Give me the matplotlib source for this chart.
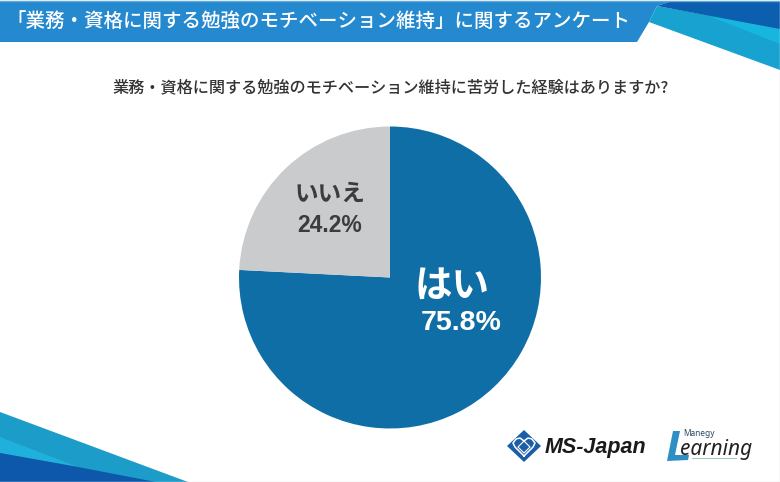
import matplotlib
matplotlib.use('Agg')
import matplotlib.pyplot as plt
from matplotlib.patches import Polygon, Rectangle

plt.rcParams['font.family'] = ['Noto Sans CJK JP', 'DejaVu Sans']

# Data
categories = ['はい', 'いいえ']
values = [75.8, 24.2]
colors = ['#0f6ea6', '#c9cbcc']
banner_title = '「業務・資格に関する勉強のモチベーション維持」に関するアンケート'
question = '業務・資格に関する勉強のモチベーション維持に苦労した経験はありますか?'

fig = plt.figure(figsize=(7.8, 4.82), dpi=100)

# Background layer in pixel coordinates
bg = fig.add_axes([0, 0, 1, 1])
bg.set_xlim(0, 780)
bg.set_ylim(482, 0)
bg.axis('off')

def poly(pts, color, z=1):
    bg.add_patch(Polygon(pts, closed=True, facecolor=color, edgecolor='none', zorder=z))

# Top banner
poly([(0, 1), (672, 1), (657, 6), (649, 22), (637, 42), (0, 42)], '#2589cf')
poly([(649, 22), (780, 70), (780, 28), (657, 6)], '#18a2cf', 2)
poly([(700, 12.5), (780, 44), (780, 28)], '#17b6de', 3)
poly([(672, 1), (780, 1), (780, 29), (657, 6)], '#0c5fae', 4)
bg.plot([0, 780], [1, 1], color='#5fa8dc', lw=1, zorder=5)

# Bottom left corner
poly([(0, 412), (188, 482), (0, 482)], '#1c9cc9')
poly([(0, 437), (78, 467), (0, 453)], '#1fb1dc', 2)
poly([(0, 453), (78, 467), (156, 482), (0, 482)], '#0d58ab', 3)

# Banner and question text
bg.text(6, 22, banner_title, color='white', fontsize=14, fontweight='medium',
        ha='left', va='center', zorder=6)
bg.text(391, 88, question, color='#333333', fontsize=11.65, fontweight='medium',
        ha='center', va='center')

# Pie
ax = fig.add_axes([239 / 780, 1 - 428.5 / 482, 302 / 780, 302 / 482])
ax.pie(values, colors=colors, startangle=90, counterclock=False,
       radius=1.0, wedgeprops={'edgecolor': 'none'})
ax.set_xlim(-1, 1)
ax.set_ylim(-1, 1)

bg.set_zorder(0)
ax.set_zorder(1)

# Pie labels
labels = fig.add_axes([0, 0, 1, 1])
labels.set_xlim(0, 780)
labels.set_ylim(482, 0)
labels.axis('off')
labels.set_zorder(2)
labels.text(452, 285, categories[0], color='white', fontsize=27, fontweight='bold',
            ha='center', va='center')
labels.text(461, 323, f'{values[0]}%', color='white', fontsize=20.5, fontweight='bold',
            ha='center', va='center', family=['Liberation Sans', 'DejaVu Sans'])
labels.text(330, 194, categories[1], color='#3c3c3c', fontsize=17, fontweight='bold',
            ha='center', va='center')
labels.text(330, 225, f'{values[1]}%', color='#3c3c3c', fontsize=16.5, fontweight='bold',
            ha='center', va='center', family=['Liberation Sans', 'DejaVu Sans'])

# MS-Japan logo
poly([(524, 430), (541, 446), (524, 462), (507, 446)], '#1b5ea6', 2)
bg.plot([524, 515, 513, 516, 520, 524, 528, 532, 535, 533, 524],
        [456, 447, 443, 439, 438, 441, 438, 439, 443, 447, 456], color='white', lw=1.1, zorder=3)
bg.plot([524, 530, 524, 518, 524], [441, 447, 453, 447, 441], color='white', lw=0.8, zorder=3)
bg.text(545, 447, 'MS-Japan', color='#1a1a1a', fontsize=15.5, fontweight='bold',
        style='italic', ha='left', va='center', family=['Liberation Sans', 'DejaVu Sans'])

# Manegy Learning logo
poly([(673, 431), (680, 431), (675, 455), (689, 455), (688, 460), (667, 461)], '#2d8fc4', 2)
bg.add_patch(Rectangle((692, 457.5), 45, 1.6, facecolor='#9fc9b8', edgecolor='none', zorder=2))
bg.text(683, 433.5, 'Manegy', color='#2b4a63', fontsize=6, ha='left', va='center',
        fontweight='medium', family=['Noto Sans', 'DejaVu Sans'])
bg.text(680, 449.5, 'earning', color='#222222', fontsize=15, style='italic',
        ha='left', va='center', family=['Noto Sans', 'DejaVu Sans'])

# Thin grey edge at right and bottom
bg.plot([779.5, 779.5, 0], [0, 481.5, 481.5], color='#e2e2e2', lw=1, zorder=7)

fig.savefig('out.png', dpi=100)
